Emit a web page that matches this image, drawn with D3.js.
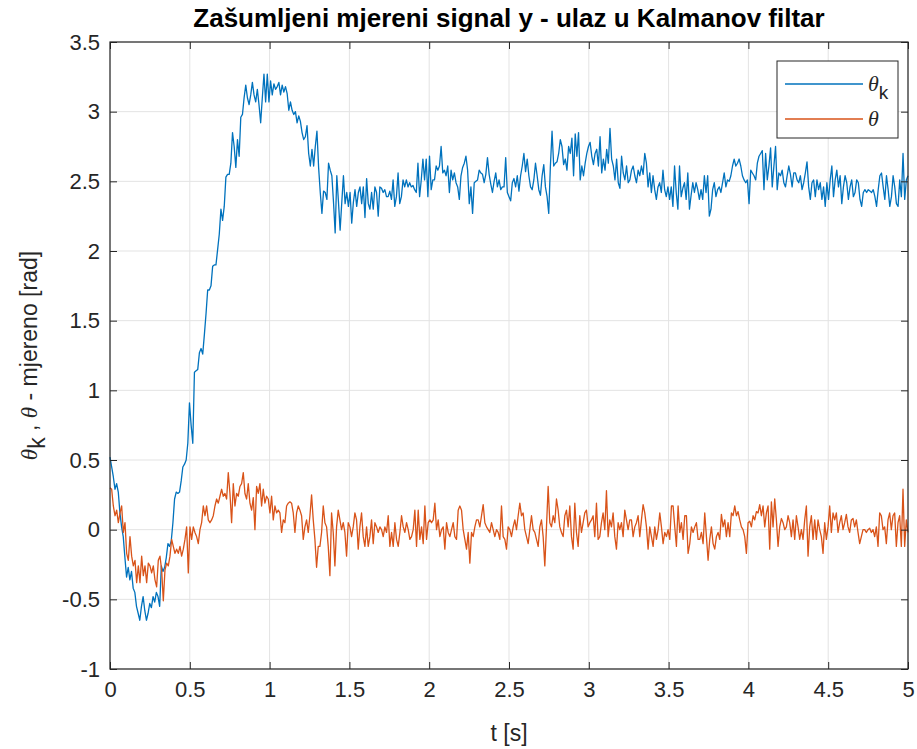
<!DOCTYPE html>
<html>
<head>
<meta charset="utf-8">
<script src="https://cdn.jsdelivr.net/npm/d3@7"></script>
<style>
body { margin: 0; background: #fff; }
svg { font-family: "Liberation Sans", Arial, Helvetica, sans-serif; }
</style>
</head>
<body>
<svg id="chart" width="917" height="749"></svg>
<script>
(function() {

	var xTicks = [0, 0.5, 1, 1.5, 2, 2.5, 3, 3.5, 4, 4.5, 5];
	var yTicks = [-1, -0.5, 0, 0.5, 1, 1.5, 2, 2.5, 3, 3.5];
	var seriesNames = ["theta_k", "theta"];

	// theta_k - blue
	var thetaK = [
		0.52,0.45,0.38,0.29,0.33,0.27,0.12,0.02,-0.05,-0.2,
		-0.34,-0.27,-0.36,-0.3,-0.42,-0.45,-0.55,-0.6,-0.65,-0.55,
		-0.48,-0.58,-0.65,-0.6,-0.53,-0.56,-0.48,-0.52,-0.45,-0.48,
		-0.55,-0.26,-0.3,-0.27,-0.2,-0.1,-0.12,-0.08,0.05,0.22,
		0.27,0.26,0.27,0.35,0.45,0.47,0.5,0.62,0.91,0.75,
		0.62,1.13,1.14,1.15,1.27,1.3,1.26,1.4,1.55,1.72,
		1.72,1.75,1.89,1.9,1.9,2.01,2.12,2.3,2.22,2.32,
		2.53,2.55,2.55,2.63,2.85,2.75,2.6,2.8,2.68,2.96,
		2.98,3.1,3.19,3.1,3.05,3.12,3.21,3.12,3.07,3.16,
		3.05,2.92,3.1,3.27,3.07,3.27,3.07,3.22,3.12,3.2,
		3.16,3.18,3.21,3.12,3.19,3.14,3.18,3.13,3.01,3.07,
		3.01,2.98,3.0,2.92,2.97,2.93,2.85,2.8,2.82,
		2.90,2.7,2.61,2.73,2.61,2.75,2.86,2.6,2.42,2.27,
		2.43,2.42,2.37,2.63,2.58,2.54,2.35,2.13,2.54,2.35,
		2.15,2.35,2.54,2.34,2.42,2.32,2.42,2.20,2.35,2.44,
		2.32,2.42,2.46,2.34,2.46,2.24,2.52,2.34,2.30,2.42,
		2.30,2.46,2.42,2.25,2.46,2.45,2.42,2.44,2.39,2.39,
		2.43,2.37,2.51,2.32,2.39,2.56,2.34,2.39,2.51,2.46,
		2.51,2.46,2.49,2.46,2.47,2.44,2.42,2.63,2.39,2.51,
		2.66,2.51,2.66,2.39,2.68,2.44,2.51,2.51,2.61,2.58,
		2.61,2.75,2.56,2.58,2.54,2.61,2.42,2.58,2.51,2.56,
		2.49,2.46,2.37,2.54,2.6,2.63,2.68,2.58,2.34,2.46,
		2.27,2.49,2.5,2.51,2.58,2.56,2.55,2.49,
		2.55,2.67,2.55,2.48,2.42,2.5,2.56,2.46,2.51,2.44,
		2.46,2.46,2.67,2.42,2.39,2.36,2.49,2.52,2.46,2.54,
		2.43,2.54,2.61,2.70,2.57,2.66,2.54,2.46,2.44,2.51,
		2.63,2.54,2.44,2.40,2.54,2.62,2.46,2.39,2.27,2.61,
		2.86,2.61,2.63,2.64,2.70,2.80,2.75,2.62,2.66,2.58,
		2.75,2.70,2.81,2.54,2.84,2.68,2.85,2.51,2.61,2.54,
		2.63,2.70,2.75,2.78,2.68,2.62,2.70,2.73,2.61,2.82,
		2.56,2.66,2.58,2.73,2.63,2.88,2.66,2.61,2.51,2.66,
		2.49,2.45,2.68,2.56,2.51,2.61,2.49,2.51,2.58,2.61,
		2.54,2.49,2.58,2.54,2.61,2.55,2.70,2.63,2.46,2.56,
		2.42,2.54,2.44,2.37,2.46,2.49,2.42,2.58,2.44,2.39,
		2.46,2.37,2.46,2.32,2.61,2.42,2.30,2.61,2.39,
		2.45,2.49,2.37,2.56,2.30,2.4,2.49,2.42,2.49,2.44,
		2.37,2.44,2.37,2.54,2.42,2.54,2.25,2.30,2.44,2.49,
		2.39,2.44,2.46,2.42,2.49,2.56,2.46,2.51,2.50,2.54,
		2.61,2.66,2.61,2.63,2.66,2.61,2.54,2.51,2.49,2.51,
		2.34,2.58,2.56,2.54,2.51,2.63,2.68,2.70,2.72,2.44,
		2.70,2.51,2.61,2.74,2.46,2.61,2.75,2.44,2.56,2.54,
		2.58,2.49,2.46,2.54,2.61,2.55,2.46,2.56,2.56,2.51,
		2.49,2.54,2.44,2.49,2.56,2.64,2.46,2.37,2.49,2.51,
		2.39,2.51,2.44,2.49,2.37,2.46,2.32,2.49,2.37,2.51,
		2.61,2.39,2.51,2.58,2.46,2.54,2.34,2.46,2.54,2.49,
		2.37,2.46,2.51,2.39,2.42,2.51,2.49,2.37,2.32,2.42,
		2.44,2.42,2.44,2.43,2.42,2.44,2.39,2.32,2.44,2.54,
		2.56,2.46,2.37,2.54,2.44,2.32,2.39,2.54,2.46,2.34,
		2.32,2.51,2.39,2.70,2.37,2.51,2.54
	];

	// theta - orange
	var theta = [
		0.30,
		0.29,0.17,0.10,0.14,0.05,0.12,0.17,-0.02,0.05,-0.17,
		-0.22,-0.05,-0.19,-0.26,-0.22,-0.38,-0.26,-0.38,-0.19,-0.33,
		-0.26,-0.38,-0.24,-0.26,-0.31,-0.26,-0.36,-0.41,-0.22,-0.19,
		-0.29,-0.51,-0.29,-0.24,-0.26,-0.19,-0.07,-0.12,-0.17,-0.14,
		-0.17,-0.12,-0.19,-0.14,-0.07,0.02,-0.31,0.02,-0.07,0.02,
		-0.02,-0.05,-0.10,0.0,0.05,0.17,0.10,0.17,0.07,0.05,
		0.07,0.10,0.17,0.22,0.19,0.24,0.29,0.24,0.26,0.22,
		0.41,0.26,0.05,0.33,0.17,0.26,0.24,0.31,0.33,0.41,
		0.26,0.22,0.33,0.19,0.14,0.23,0.0,0.31,0.26,0.33,
		0.17,0.29,0.19,0.24,0.22,0.12,0.24,0.07,0.17,0.12,
		0.14,0.12,
		-0.02,0.07,0.05,0.17,0.19,0.20,0.19,0.12,-0.02,0.12,
		0.17,0.14,0.10,-0.07,0.02,0.07,-0.02,0.10,0.25,0.07,
		-0.07,-0.27,-0.12,-0.12,-0.02,0.17,0.05,0.02,-0.12,-0.33,
		0.12,-0.02,-0.26,0.02,0.14,0.07,0.0,0.05,-0.02,-0.19,
		0.05,0.02,-0.05,0.02,0.12,0.07,-0.14,0.02,0.12,-0.05,
		-0.12,0.02,-0.12,-0.05,0.07,-0.10,0.05,0.02,-0.02,0.02,
		0.0,-0.05,0.02,-0.02,0.10,-0.12,-0.02,-0.12,0.05,-0.07,
		-0.12,-0.02,0.10,0.02,-0.02,0.05,0.0,-0.07,-0.05,0.0,
		0.14,-0.12,0.14,-0.07,0.02,-0.10,0.17,-0.07,0.05,0.07,
		0.05,0.07,0.19,0.0,0.07,-0.05,0.0,0.02,-0.14,0.05,
		-0.02,-0.05,0.0,0.05,-0.05,-0.07,0.14,0.17,0.14,0.0,
		-0.07,-0.14,-0.02,-0.24,-0.02,-0.05,0.02,0.07,0.07,0.02,
		0.10,0.18,0.05,0.02,0.0,-0.02,
		0.05,0.0,-0.05,0.0,-0.02,-0.07,0.17,-0.05,-0.07,-0.14,
		0.02,0.0,-0.05,0.02,0.07,0.0,0.10,0.19,0.10,0.12,
		0.0,-0.05,-0.10,0.0,0.10,0.0,-0.02,-0.07,-0.12,0.02,
		0.07,-0.05,-0.26,0.02,0.31,0.05,0.02,0.10,0.05,0.22,
		0.14,0.02,-0.02,-0.05,0.10,0.14,0.02,0.17,-0.05,-0.14,
		0.19,-0.02,-0.12,0.10,-0.02,0.05,0.12,0.14,0.02,0.05,
		0.07,0.10,-0.05,0.19,-0.07,-0.05,0.05,0.12,0.0,0.28,
		-0.05,0.07,0.02,0.12,-0.05,-0.14,0.05,0.0,0.05,-0.05,
		0.14,0.07,0.0,0.07,0.07,-0.05,0.02,0.05,0.10,-0.05,
		0.07,0.18,0.12,0.02,-0.14,0.02,-0.05,-0.12,0.02,-0.07,
		0.0,0.12,0.02,-0.10,-0.02,-0.05,0.0,-0.07,0.17,0.17,
		0.02,-0.12,0.17,-0.02,0.05,-0.07,0.10,0.10,-0.17,-0.10,
		0.02,-0.02,0.02,0.05,-0.07,
		-0.07,-0.02,-0.10,0.12,-0.05,-0.22,-0.07,0.02,-0.10,-0.14,
		-0.05,-0.02,-0.07,0.11,0.02,0.07,-0.05,0.05,-0.05,0.12,
		0.10,0.17,0.10,0.13,0.07,0.02,0.0,-0.05,-0.17,0.05,
		0.06,0.02,0.10,0.07,0.13,0.12,0.18,0.10,0.17,0.02,
		0.12,0.17,-0.14,0.20,0.02,0.22,0.07,-0.12,0.02,0.08,
		0.05,0.0,0.02,0.10,0.05,-0.05,0.07,-0.07,0.10,0.02,
		-0.07,0.0,-0.07,0.07,0.17,-0.19,0.02,0.10,-0.07,0.07,
		-0.07,0.07,0.0,-0.05,-0.17,0.05,-0.07,0.02,0.17,-0.02,
		0.12,0.07,0.12,-0.02,0.05,0.10,0.0,0.05,0.11,0.02,
		-0.02,0.07,0.08,0.02,0.07,-0.02,-0.10,-0.05,0.0,0.0,
		-0.02,0.0,0.01,-0.02,0.0,-0.05,0.02,-0.12,0.12,0.10,
		0.0,0.02,-0.10,0.07,0.12,0.0,0.10,0.12,-0.12,0.05,
		0.10,-0.12,0.29,-0.12,0.07,-0.02
	];

	var colors = ["#0072BD", "#D95319"];

// LAYOUT

	var width = 917, height = 749;
	var margin = { top: 42, right: 9, bottom: 80, left: 110 };
	var plotW = width - margin.left - margin.right;
	var plotH = height - margin.top - margin.bottom;

	var svg = d3.select("#chart");

	var x = d3.scaleLinear().domain([0, 5]).range([margin.left, margin.left + plotW]);
	var y = d3.scaleLinear().domain([-1, 3.5]).range([margin.top + plotH, margin.top]);

	function toPoints(vals) {
		var n = vals.length;
		return vals.map(function(v, i) { return [i * 5 / (n - 1), v]; });
	}

	var fmt = function(d) { return String(d); };

// GRID

	var grid = svg.append("g").attr("class", "grid");
	grid.selectAll(".gx").data(xTicks).enter().append("line")
		.attr("x1", function(d) { return x(d); })
		.attr("x2", function(d) { return x(d); })
		.attr("y1", margin.top).attr("y2", margin.top + plotH)
		.attr("stroke", "#e3e3e3").attr("stroke-width", 1);
	grid.selectAll(".gy").data(yTicks).enter().append("line")
		.attr("y1", function(d) { return y(d); })
		.attr("y2", function(d) { return y(d); })
		.attr("x1", margin.left).attr("x2", margin.left + plotW)
		.attr("stroke", "#e3e3e3").attr("stroke-width", 1);

// LINES

	var line = d3.line()
		.x(function(d) { return x(d[0]); })
		.y(function(d) { return y(d[1]); });

	[thetaK, theta].forEach(function(vals, i) {
		svg.append("path")
			.datum(toPoints(vals))
			.attr("fill", "none")
			.attr("stroke", colors[i])
			.attr("stroke-width", 1.3)
			.attr("stroke-linejoin", "round")
			.attr("d", line);
	});

// AXES

	var bottom = svg.append("g")
		.attr("transform", "translate(0," + (margin.top + plotH) + ")")
		.call(d3.axisBottom(x).tickValues(xTicks).tickFormat(fmt).tickSizeInner(-7).tickSizeOuter(0).tickPadding(12));
	var top = svg.append("g")
		.attr("transform", "translate(0," + margin.top + ")")
		.call(d3.axisTop(x).tickValues(xTicks).tickFormat("").tickSizeInner(-7).tickSizeOuter(0));
	var left = svg.append("g")
		.attr("transform", "translate(" + margin.left + ",0)")
		.call(d3.axisLeft(y).tickValues(yTicks).tickFormat(fmt).tickSizeInner(-7).tickSizeOuter(0).tickPadding(10));
	var right = svg.append("g")
		.attr("transform", "translate(" + (margin.left + plotW) + ",0)")
		.call(d3.axisRight(y).tickValues(yTicks).tickFormat("").tickSizeInner(-7).tickSizeOuter(0));

	[bottom, top, left, right].forEach(function(g) {
		g.selectAll(".domain").remove();
		g.selectAll(".tick line").attr("stroke", "#262626");
		g.selectAll("text")
			.attr("fill", "#262626")
			.style("font-size", "22px")
			.style("font-family", "'Liberation Sans', Arial, sans-serif");
	});

	svg.append("rect")
		.attr("x", margin.left).attr("y", margin.top)
		.attr("width", plotW).attr("height", plotH)
		.attr("fill", "none").attr("stroke", "#262626").attr("stroke-width", 1.2);

// TITLES

	svg.append("text")
		.attr("x", margin.left + plotW / 2).attr("y", 27)
		.attr("text-anchor", "middle")
		.style("font-size", "26px").style("font-weight", "bold")
		.attr("fill", "#000")
		.text("Zašumljeni mjereni signal y - ulaz u Kalmanov filtar");

	svg.append("text")
		.attr("x", margin.left + plotW / 2).attr("y", 741)
		.attr("text-anchor", "middle")
		.style("font-size", "23px")
		.attr("fill", "#262626")
		.text("t [s]");

	var ylab = svg.append("text")
		.attr("transform", "translate(37," + (margin.top + plotH / 2) + ") rotate(-90)")
		.attr("text-anchor", "middle")
		.style("font-size", "23px")
		.attr("fill", "#262626");
	ylab.append("tspan").style("font-family", "'Liberation Serif', serif").style("font-style", "italic").text("θ");
	ylab.append("tspan").attr("dy", 8).text("k");
	ylab.append("tspan").attr("dy", -8).text(" , ");
	ylab.append("tspan").style("font-family", "'Liberation Serif', serif").style("font-style", "italic").text("θ");
	ylab.append("tspan").text(" - mjereno [rad]");

// LEGEND

	var leg = svg.append("g").attr("transform", "translate(777,61)");
	leg.append("rect").attr("width", 121).attr("height", 77)
		.attr("fill", "#fff").attr("stroke", "#262626").attr("stroke-width", 1);
	var rows = leg.selectAll(".row").data(seriesNames).enter().append("g")
		.attr("transform", function(d, i) { return "translate(0," + (23 + i * 35) + ")"; });
	rows.append("line").attr("x1", 8).attr("x2", 86)
		.attr("stroke", function(d, i) { return colors[i]; }).attr("stroke-width", 1.3);
	var lt = rows.append("text").attr("x", 91).attr("y", 7)
		.style("font-size", "22px").attr("fill", "#262626");
	lt.append("tspan").style("font-family", "'Liberation Serif', serif").style("font-style", "italic").text("θ");
	lt.filter(function(d) { return d === "theta_k"; })
		.append("tspan").attr("dy", 8).style("font-size", "19px").text("k");

})();
</script>
</body>
</html>
